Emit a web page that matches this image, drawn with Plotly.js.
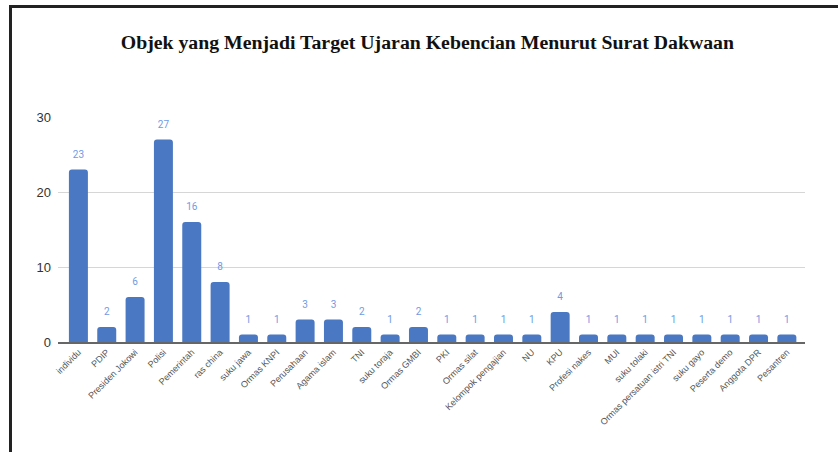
<!DOCTYPE html>
<html>
<head>
<meta charset="utf-8">
<script src="https://cdn.plot.ly/plotly-3.0.1.min.js"></script>
<style>
  html, body { margin: 0; padding: 0; background: #fff; }
  #wrap { position: relative; width: 838px; height: 452px; overflow: hidden; }
  #chart { position: absolute; left: 0; top: 0; width: 838px; height: 452px; }
  #frame { position: absolute; left: 9px; top: 5px; width: 840px; height: 460px;
           border-top: 3px solid #222; border-left: 3px solid #222; pointer-events: none; }
</style>
</head>
<body>
<div id="wrap">
  <div id="chart"></div>
  <div id="frame"></div>
</div>
<script>
const categories = ["individu", "PDIP", "Presiden Jokowi", "Polisi", "Pemerintah", "ras china",
  "suku jawa", "Ormas KNPI", "Perusahaan", "Agama islam", "TNI", "suku toraja", "Ormas GMBI",
  "PKI", "Ormas silat", "Kelompok pengajian", "NU", "KPU", "Profesi nakes", "MUI", "suku tolaki",
  "Ormas persatuan istri TNI", "suku gayo", "Peserta demo", "Anggota DPR", "Pesantren"];
const values = [23, 2, 6, 27, 16, 8, 1, 1, 3, 3, 2, 1, 2, 1, 1, 1, 1, 4, 1, 1, 1, 1, 1, 1, 1, 1];
const yTicks = [0, 10, 20, 30];
const titleText = "Objek yang Menjadi Target Ujaran Kebencian Menurut Surat Dakwaan";

const bars = {
  type: 'bar',
  x: categories,
  y: values,
  marker: { color: '#4a78c2', cornerradius: 3 },
  hoverinfo: 'x+y'
};
const labels = {
  type: 'scatter',
  mode: 'markers+text',
  x: categories,
  y: values,
  text: values.map(String),
  textposition: 'top center',
  textfont: { family: 'Roboto, Arial, sans-serif', size: 10, color: '#6f9be3' },
  marker: { size: 13, color: 'rgba(0,0,0,0)' },
  hoverinfo: 'skip',
  cliponaxis: false
};

const layout = {
  width: 838, height: 452,
  margin: { l: 58, r: 33, t: 117, b: 110 },
  paper_bgcolor: '#fff', plot_bgcolor: '#fff',
  showlegend: false,
  bargap: 0.33,
  title: {
    text: titleText,
    x: 0.51, xanchor: 'center', y: 0.907, yanchor: 'middle',
    font: { family: 'Liberation Serif, Times New Roman, serif', size: 19.8, color: '#111', weight: 'bold' }
  },
  xaxis: {
    type: 'category',
    range: [-0.72, 25.64],
    tickangle: -45,
    tickfont: { family: 'Liberation Sans, Arial, sans-serif', size: 9, color: '#555' },
    showgrid: false,
    showline: true, linecolor: '#666', linewidth: 1.5,
    ticks: '', fixedrange: true
  },
  yaxis: {
    range: [0, 30],
    tickvals: yTicks,
    ticktext: yTicks.map(String),
    tickfont: { family: 'Liberation Sans, Arial, sans-serif', size: 13, color: '#333' },
    showgrid: true, gridcolor: '#d6d6d6', gridwidth: 1,
    zeroline: false,
    ticks: '', ticklabelstandoff: 6, fixedrange: true
  }
};

Plotly.newPlot('chart', [bars, labels], layout, { displayModeBar: false, staticPlot: true });
</script>
</body>
</html>
